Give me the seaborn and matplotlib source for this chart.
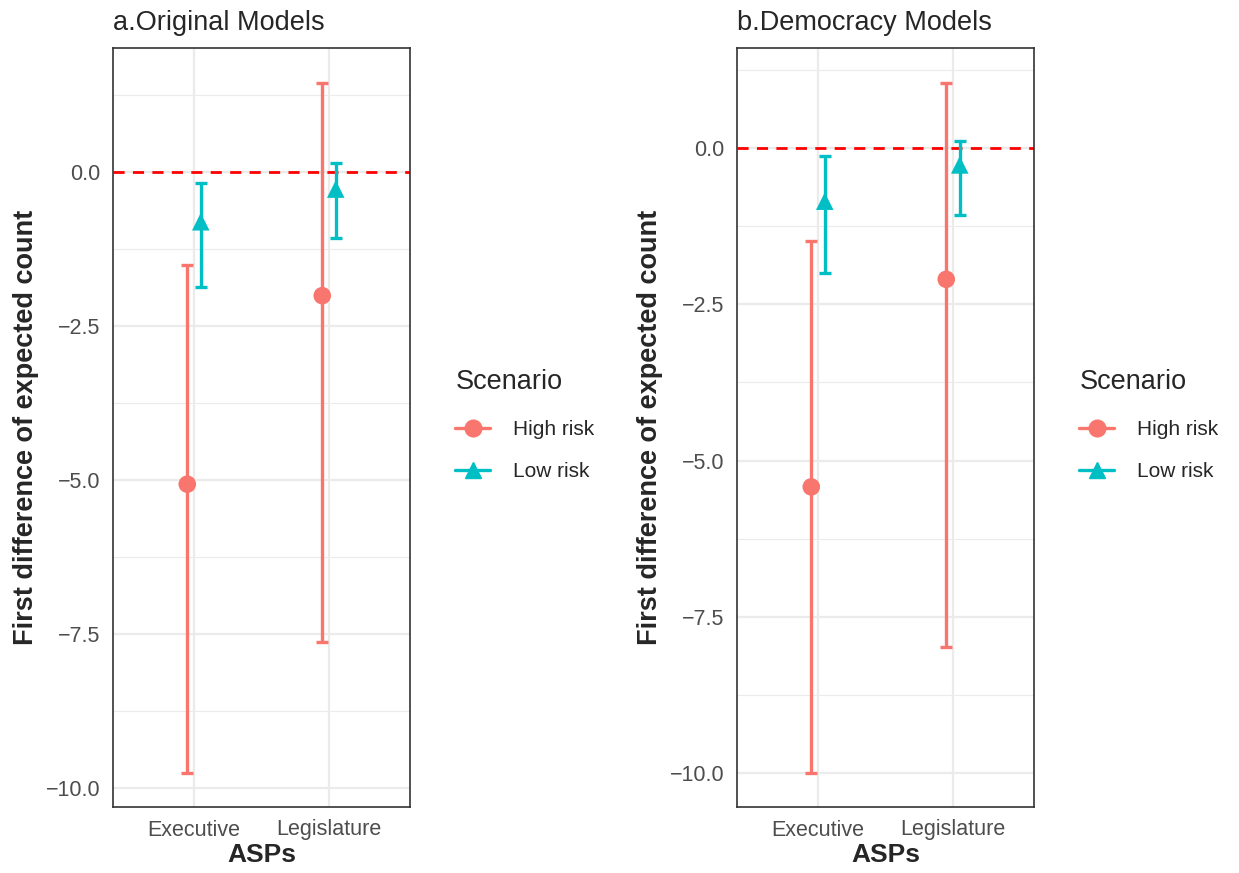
import matplotlib
matplotlib.use("Agg")
import matplotlib.pyplot as plt
from matplotlib.lines import Line2D
from matplotlib.ticker import MultipleLocator
import numpy as np
import pandas as pd
import seaborn as sns

asps = ["Executive", "Legislature"]
scenarios = ["High risk", "Low risk"]
titles = ["a.Original Models", "b.Democracy Models"]

# point estimates and intervals, [Executive, Legislature]
orig_high_est = [-5.07, -2.01]
orig_high_lo = [-9.76, -7.63]
orig_high_hi = [-1.51, 1.44]
orig_low_est = [-0.81, -0.28]
orig_low_lo = [-1.87, -1.07]
orig_low_hi = [-0.18, 0.15]

demo_high_est = [-5.42, -2.10]
demo_high_lo = [-10.0, -7.98]
demo_high_hi = [-1.49, 1.04]
demo_low_est = [-0.85, -0.27]
demo_low_lo = [-2.00, -1.07]
demo_low_hi = [-0.13, 0.11]

ylims = [(-10.31, 2.01), (-10.54, 1.60)]

rows = []
for panel, sets in zip(titles, [
    [(orig_high_est, orig_high_lo, orig_high_hi), (orig_low_est, orig_low_lo, orig_low_hi)],
    [(demo_high_est, demo_high_lo, demo_high_hi), (demo_low_est, demo_low_lo, demo_low_hi)],
]):
    for scen, (est, lo, hi) in zip(scenarios, sets):
        for asp, e, l, h in zip(asps, est, lo, hi):
            rows.append(dict(panel=panel, asp=asp, scenario=scen, est=e, lo=l, hi=h))
df = pd.DataFrame(rows)

palette = {"High risk": "#F8766D", "Low risk": "#00BFC4"}
markers = {"High risk": "o", "Low risk": "^"}
dodge = {"High risk": -0.05, "Low risk": 0.05}
df["xpos"] = df["asp"].map({a: i for i, a in enumerate(asps)}) + df["scenario"].map(dodge)

sns.set_style("white")
plt.rcParams["font.family"] = ["Liberation Sans", "DejaVu Sans"]

fig = plt.figure(figsize=(12.39, 8.73), dpi=100)
axes_x = [113 / 1239, 737 / 1239]

for k, panel in enumerate(titles):
    ax = fig.add_axes([axes_x[k], 66 / 873, 297 / 1239, 759 / 873])
    d = df[df["panel"] == panel]
    ax.set_xlim(-0.6, 1.6)
    ax.set_ylim(*ylims[k])
    ax.yaxis.set_major_locator(MultipleLocator(2.5))
    ax.yaxis.set_minor_locator(MultipleLocator(1.25))
    ax.grid(which="major", color="#EBEBEB", lw=1.6, zorder=0)
    ax.grid(which="minor", axis="y", color="#EBEBEB", lw=0.8, zorder=0)
    ax.set_axisbelow(True)
    ax.axhline(0, color="#FF0000", ls=(0, (4, 3)), lw=2.0, zorder=2)

    for scen in scenarios:
        s = d[d["scenario"] == scen]
        ax.errorbar(s["xpos"], s["est"],
                    yerr=[s["est"] - s["lo"], s["hi"] - s["est"]],
                    fmt="none", ecolor=palette[scen], elinewidth=2.4,
                    capsize=4.3, capthick=2.4, zorder=3)
    sns.scatterplot(data=d, x="xpos", y="est", hue="scenario", style="scenario",
                    palette=palette, markers=markers, s=160, linewidth=0,
                    legend=False, ax=ax, zorder=4)

    ax.set_xticks(range(len(asps)))
    ax.set_xticklabels(asps)
    ax.tick_params(axis="both", which="major", direction="out", length=5, width=1.2,
                   color="#333333", labelsize=15.5, labelcolor="#4D4D4D", pad=4)
    ax.tick_params(axis="both", which="minor", length=0)
    ax.set_yticklabels([f"{v:.1f}".replace("-", "\u2212") for v in ax.get_yticks()])
    for sp in ax.spines.values():
        sp.set_color("#333333")
        sp.set_linewidth(1.2)
    ax.set_xlabel("ASPs", fontsize=19, fontweight="bold", labelpad=2)
    ax.set_ylabel("First difference of expected count", fontsize=19.5,
                  fontweight="bold", labelpad=5)
    ax.set_title(panel, loc="left", fontsize=19.5, pad=13)

    handles = [Line2D([0], [0], color=palette[s], marker=markers[s], lw=2.4,
                      markersize=12) for s in scenarios]
    leg = ax.legend(handles, scenarios, title="Scenario", loc="center left",
                    bbox_to_anchor=(1.09, 0.502), frameon=False, fontsize=15,
                    title_fontsize=19.5, handlelength=1.65, handletextpad=1.1,
                    labelspacing=1.1, alignment="left")
    leg.get_title().set_position((0, 2))

fig.savefig("out.png", dpi=100)
